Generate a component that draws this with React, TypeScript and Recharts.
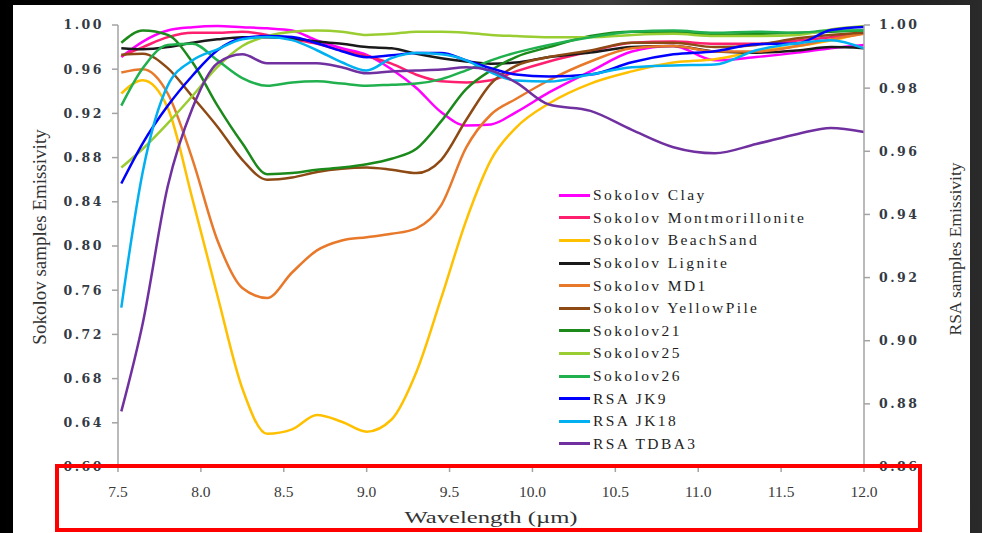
import { LineChart, Line, XAxis, YAxis, Legend } from 'recharts'

// wavelength grid (µm)
const wavelengths = [
  7.52, 7.65, 7.8, 7.95, 8.1, 8.25, 8.4, 8.55, 8.7, 8.85, 9.0, 9.15, 9.3,
  9.45, 9.6, 9.75, 9.9, 10.1, 10.35, 10.6, 10.85, 11.1, 11.35, 11.6, 11.8, 12.0,
]

// Sokolov samples (left axis)
const sokolovClay = [
  0.971, 0.985, 0.995, 0.998, 0.999, 0.998, 0.997, 0.995, 0.986, 0.979, 0.973, 0.96, 0.943,
  0.921, 0.909, 0.91, 0.921, 0.939, 0.958, 0.976, 0.981, 0.968, 0.971, 0.975, 0.979, 0.982,
]
const sokolovMontmorillonite = [
  0.972, 0.98, 0.989, 0.993, 0.993, 0.994, 0.991, 0.987, 0.983, 0.977, 0.972, 0.965, 0.955,
  0.949, 0.948, 0.95, 0.958, 0.967, 0.976, 0.984, 0.985, 0.983, 0.983, 0.986, 0.989, 0.993,
]
const sokolovBeachSand = [
  0.938, 0.95, 0.925, 0.842, 0.755, 0.671, 0.63, 0.634, 0.647, 0.641, 0.632, 0.643, 0.686,
  0.753, 0.823, 0.878, 0.907, 0.929, 0.947, 0.958, 0.966, 0.969, 0.976, 0.981, 0.986, 0.993,
]
const sokolovLignite = [
  0.979, 0.978, 0.98, 0.984, 0.987, 0.989, 0.989, 0.988, 0.985, 0.983, 0.98, 0.979, 0.974,
  0.97, 0.967, 0.965, 0.966, 0.971, 0.975, 0.98, 0.981, 0.976, 0.975, 0.977, 0.98, 0.979,
]
const sokolovMD1 = [
  0.957, 0.96, 0.938, 0.878, 0.805, 0.762, 0.753, 0.776, 0.796, 0.805, 0.808, 0.811, 0.816,
  0.837, 0.889, 0.919, 0.933, 0.95, 0.967, 0.979, 0.981, 0.976, 0.976, 0.981, 0.987, 0.992,
]
const sokolovYellowPile = [
  0.973, 0.974, 0.961, 0.935, 0.908, 0.878, 0.86, 0.862, 0.867, 0.87, 0.871, 0.869, 0.866,
  0.878, 0.914, 0.947, 0.963, 0.971, 0.977, 0.984, 0.984, 0.98, 0.982, 0.988, 0.991, 0.993,
]
const sokolov21 = [
  0.984, 0.995, 0.991, 0.966, 0.927, 0.893, 0.865, 0.866, 0.869, 0.871, 0.874, 0.879, 0.888,
  0.913, 0.942, 0.959, 0.971, 0.98, 0.99, 0.994, 0.994, 0.991, 0.992, 0.993, 0.994, 0.995,
]
const sokolov25 = [
  0.871, 0.888, 0.911, 0.936, 0.962, 0.981, 0.99, 0.994, 0.995, 0.994, 0.991, 0.992, 0.994,
  0.994, 0.993, 0.991, 0.99, 0.989, 0.989, 0.991, 0.992, 0.99, 0.99, 0.991, 0.996, 0.999,
]
const sokolov26 = [
  0.927, 0.961, 0.982, 0.983, 0.968, 0.952, 0.945, 0.948, 0.949, 0.947, 0.945, 0.946, 0.947,
  0.951, 0.959, 0.968, 0.975, 0.982, 0.989, 0.994, 0.995, 0.993, 0.994, 0.993, 0.995, 0.995,
]

// RSA samples (right axis)
const rsaJK9 = [
  0.9498, 0.9626, 0.9744, 0.984, 0.992, 0.9958, 0.9965, 0.9962, 0.9942, 0.9917, 0.9898, 0.9904, 0.9911,
  0.9911, 0.9888, 0.9863, 0.9843, 0.9837, 0.9843, 0.9882, 0.9907, 0.9917, 0.9939, 0.9942, 0.9984, 0.9994,
]
const rsaJK18 = [
  0.9105, 0.9537, 0.9808, 0.9888, 0.9923, 0.9955, 0.9962, 0.9952, 0.992, 0.9882, 0.9856, 0.9895, 0.9911,
  0.9907, 0.9888, 0.985, 0.9824, 0.9821, 0.9843, 0.9866, 0.9872, 0.9875, 0.992, 0.9942, 0.9952, 0.9926,
]
const rsaTDBA3 = [
  0.8776, 0.9057, 0.9489, 0.9738, 0.9879, 0.9907, 0.9879, 0.9879, 0.9879, 0.9866, 0.9847, 0.9853, 0.9856,
  0.9859, 0.9866, 0.9856, 0.9818, 0.9748, 0.9728, 0.9668, 0.9613, 0.9594, 0.9623, 0.9655, 0.9674, 0.9661,
]

const xTicks = [7.5, 8.0, 8.5, 9.0, 9.5, 10.0, 10.5, 11.0, 11.5, 12.0]
const leftTicks = [0.6, 0.64, 0.68, 0.72, 0.76, 0.8, 0.84, 0.88, 0.92, 0.96, 1.0]
const rightTicks = [0.86, 0.88, 0.9, 0.92, 0.94, 0.96, 0.98, 1.0]

const series = [
  { key: 'clay', name: 'Sokolov Clay', values: sokolovClay, color: '#FF00FF', axis: 'left' },
  { key: 'mont', name: 'Sokolov Montmorillonite', values: sokolovMontmorillonite, color: '#FF1F6F', axis: 'left' },
  { key: 'beach', name: 'Sokolov BeachSand', values: sokolovBeachSand, color: '#FFC000', axis: 'left' },
  { key: 'lignite', name: 'Sokolov Lignite', values: sokolovLignite, color: '#1A1A1A', axis: 'left' },
  { key: 'md1', name: 'Sokolov MD1', values: sokolovMD1, color: '#E8782A', axis: 'left' },
  { key: 'yellow', name: 'Sokolov YellowPile', values: sokolovYellowPile, color: '#8E4A14', axis: 'left' },
  { key: 's21', name: 'Sokolov21', values: sokolov21, color: '#1B8A1B', axis: 'left' },
  { key: 's25', name: 'Sokolov25', values: sokolov25, color: '#9ACD32', axis: 'left' },
  { key: 's26', name: 'Sokolov26', values: sokolov26, color: '#21B04E', axis: 'left' },
  { key: 'jk9', name: 'RSA JK9', values: rsaJK9, color: '#0000FF', axis: 'right' },
  { key: 'jk18', name: 'RSA JK18', values: rsaJK18, color: '#00B0F0', axis: 'right' },
  { key: 'tdba3', name: 'RSA TDBA3', values: rsaTDBA3, color: '#7030A0', axis: 'right' },
]

const rows = wavelengths.map((w, i) => {
  const row: Record<string, number> = { w }
  series.forEach((s) => { row[s.key] = s.values[i] })
  return row
})

const yTickStyle = {
  fontFamily: 'DejaVu Serif', fontSize: 12.5, fontWeight: 700,
  fill: '#333a44', letterSpacing: 2.5,
}

// legend keeps the series order (the default sorts by name)
const renderLegend = () => (
  <div style={{ fontFamily: 'Liberation Serif', fontSize: 15.5, color: '#1e1e1e', letterSpacing: 2.4 }}>
    {series.map((s) => (
      <div key={s.key} style={{ display: 'flex', alignItems: 'center', height: 22.6 }}>
        <span style={{ display: 'inline-block', width: 31, height: 3, background: s.color, marginRight: 3 }} />
        <span style={{ whiteSpace: 'nowrap' }}>{s.name}</span>
      </div>
    ))}
  </div>
)

const title = { position: 'absolute' as const, fontFamily: 'Liberation Serif', color: '#333', whiteSpace: 'nowrap' as const }

export default function App() {
  return (
    <div style={{
      position: 'fixed', left: 0, top: 0, width: 982, height: 533, overflow: 'hidden',
      background: 'linear-gradient(90deg, #000 0%, #111 30%, #3c3c3c 62%, #141414 82%, #2a2a2a 100%)',
    }}>
      <div style={{ position: 'absolute', left: 13, top: 5, width: 957, height: 528, background: '#fff' }} />
      <div style={{ position: 'absolute', left: 0, top: 0 }}>
        <LineChart width={982} height={533} data={rows} margin={{ top: 25, right: 58, bottom: 36, left: 58 }}>
          <XAxis
            dataKey="w" type="number" domain={[7.5, 12]} ticks={xTicks}
            tickFormatter={(v: number) => v.toFixed(1)}
            stroke="#a3a3a3" strokeWidth={1.5} height={30} tickSize={5} tickMargin={14}
            tick={{ fontFamily: 'Liberation Serif', fontSize: 15.5, fill: '#3a3a3a' }}
          />
          <YAxis
            yAxisId="left" domain={[0.6, 1.0]} ticks={leftTicks} width={60}
            tickFormatter={(v: number) => v.toFixed(2)}
            stroke="#a3a3a3" strokeWidth={1.5} tickSize={6} tickMargin={8} tick={yTickStyle}
          />
          <YAxis
            yAxisId="right" orientation="right" domain={[0.86, 1.0]} ticks={rightTicks} width={60}
            tickFormatter={(v: number) => v.toFixed(2)}
            stroke="#a3a3a3" strokeWidth={1.5} tickSize={6} tickMargin={9} tick={yTickStyle}
          />
          <Legend
            layout="vertical" align="center" verticalAlign="middle" content={renderLegend}
            wrapperStyle={{ left: 559, top: 184, width: 270 }}
          />
          {series.map((s) => (
            <Line
              key={s.key} yAxisId={s.axis} type="monotone" dataKey={s.key} name={s.name}
              stroke={s.color} strokeWidth={2.5} dot={false} isAnimationActive={false}
            />
          ))}
        </LineChart>
      </div>
      <div style={{ ...title, left: 40, top: 237, fontSize: 19, transform: 'translate(-50%, -50%) rotate(-90deg)' }}>
        Sokolov samples Emissivity
      </div>
      <div style={{ ...title, left: 955, top: 249, fontSize: 17.5, transform: 'translate(-50%, -50%) rotate(-90deg)' }}>
        RSA samples Emissivity
      </div>
      <div style={{ ...title, left: 491, top: 518, fontSize: 17, transform: 'translate(-50%, -50%) scaleX(1.45)' }}>
        Wavelength (µm)
      </div>
      <div style={{
        position: 'absolute', left: 55, top: 464, width: 867, height: 68,
        border: '4px solid #ff0000', boxSizing: 'border-box',
      }} />
    </div>
  )
}
